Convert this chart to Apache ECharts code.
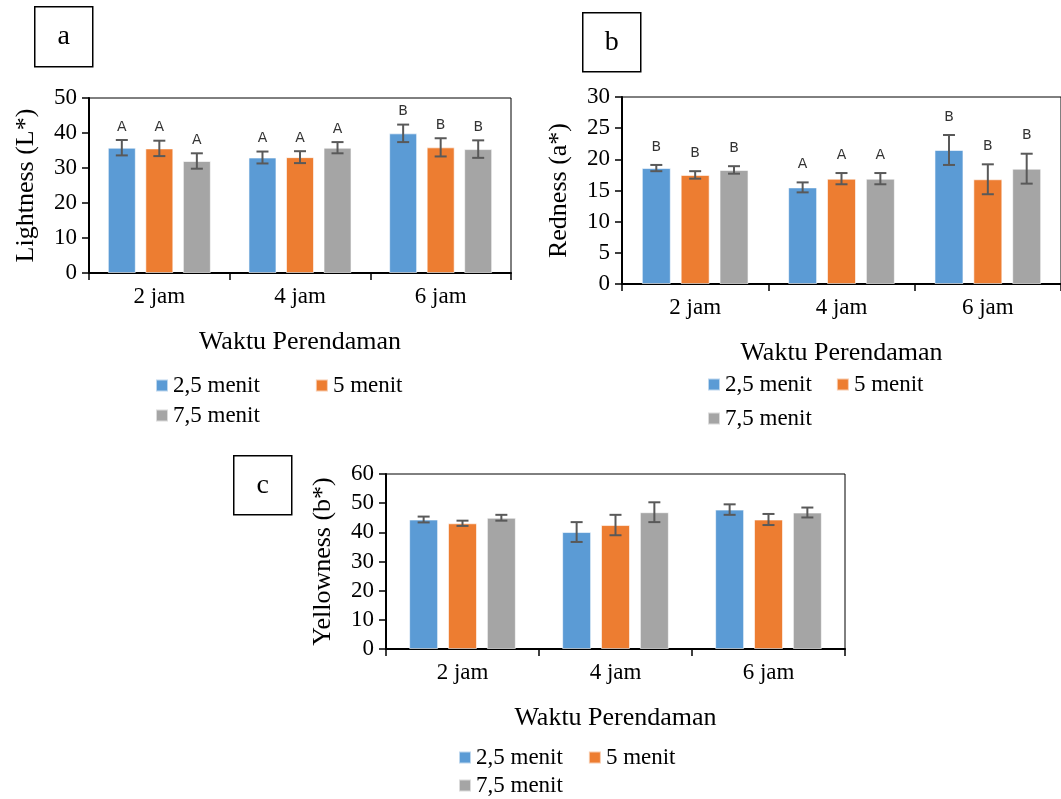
<!DOCTYPE html>
<html>
<head>
<meta charset="utf-8">
<script src="https://cdn.jsdelivr.net/npm/echarts@6/dist/echarts.min.js"></script>
<style>
  html, body { margin: 0; padding: 0; background: #fff; }
  #main { width: 1061px; height: 799px; }
</style>
</head>
<body>
<div id="main"></div>
<script>
// categories and series names
const cats = ['2 jam', '4 jam', '6 jam'];
const seriesNames = ['2,5 menit', '5 menit', '7,5 menit'];
const colors = ['#5B9BD5', '#ED7D31', '#A5A5A5'];

// a: Lightness (L*)
const lightness = [
  [35.8, 33.0, 39.9],
  [35.6, 33.1, 35.9],
  [32.0, 35.8, 35.4]
];
const lightnessErr = [
  [2.2, 1.7, 2.5],
  [2.2, 1.7, 2.6],
  [2.2, 1.6, 2.5]
];
const lightnessLetters = [
  ['A', 'A', 'B'],
  ['A', 'A', 'B'],
  ['A', 'A', 'B']
];

// b: Redness (a*)
const redness = [
  [18.6, 15.5, 21.5],
  [17.5, 16.9, 16.8],
  [18.3, 16.9, 18.5]
];
const rednessErr = [
  [0.5, 0.8, 2.4],
  [0.6, 0.9, 2.4],
  [0.6, 0.9, 2.4]
];
const rednessLetters = [
  ['B', 'A', 'B'],
  ['B', 'A', 'B'],
  ['B', 'A', 'B']
];

// c: Yellowness (b*)
const yellowness = [
  [44.4, 40.1, 47.8],
  [43.1, 42.5, 44.4],
  [45.0, 46.9, 46.8]
];
const yellownessErr = [
  [1.0, 3.4, 1.8],
  [0.9, 3.5, 1.9],
  [1.0, 3.4, 1.7]
];

const serif = 'Liberation Serif';
const chart = echarts.init(document.getElementById('main'));

const panels = [
  { grid: { left: 89, top: 98, width: 422, height: 175 }, max: 50, interval: 10,
    yName: 'Lightness (L*)', barW: 28, vals: lightness, errs: lightnessErr, letters: lightnessLetters, letterGap: 13 },
  { grid: { left: 622, top: 97, width: 450, height: 187 }, max: 30, interval: 5,
    yName: 'Redness (a*)', barW: 29, vals: redness, errs: rednessErr, letters: rednessLetters, letterGap: 18 },
  { grid: { left: 386, top: 474, width: 459, height: 175 }, max: 60, interval: 10,
    yName: 'Yellowness (b*)', barW: 29, vals: yellowness, errs: yellownessErr, letters: null, letterGap: 0 }
];

const grids = [], xAxes = [], yAxes = [], series = [];
const gapRatio = 0.34;

panels.forEach((p, k) => {
  grids.push(Object.assign({ show: true, borderColor: '#000', borderWidth: 1, containLabel: false }, p.grid));
  xAxes.push({
    type: 'category', gridIndex: k, data: cats,
    axisLine: { lineStyle: { color: '#000', width: 2 } },
    axisTick: { show: true, length: 7, lineStyle: { color: '#000', width: 1.5 } },
    axisLabel: { color: '#000', fontFamily: serif, fontSize: 23, margin: 12 },
    name: 'Waktu Perendaman', nameLocation: 'middle', nameGap: 56,
    nameTextStyle: { color: '#000', fontFamily: serif, fontSize: 26 }
  });
  yAxes.push({
    type: 'value', gridIndex: k, min: 0, max: p.max, interval: p.interval,
    splitLine: { show: false },
    axisLine: { show: true, lineStyle: { color: '#000', width: 2 } },
    axisTick: { show: true, length: 7, lineStyle: { color: '#000', width: 1.5 } },
    axisLabel: { color: '#000', fontFamily: serif, fontSize: 23, margin: 12 },
    name: p.yName, nameLocation: 'middle', nameGap: 50,
    nameTextStyle: { color: '#000', fontFamily: serif, fontSize: 26 }
  });

  seriesNames.forEach((name, i) => {
    series.push({
      type: 'bar', name: name, xAxisIndex: k, yAxisIndex: k,
      data: p.vals[i], barWidth: p.barW, barGap: (gapRatio * 100) + '%',
      itemStyle: { color: colors[i], borderColor: 'rgba(255,255,255,0.6)', borderWidth: 1 },
      silent: true
    });
  });

  seriesNames.forEach((name, i) => {
    const offset = (i - 1) * p.barW * (1 + gapRatio);
    series.push({
      type: 'custom', xAxisIndex: k, yAxisIndex: k, z: 5, silent: true,
      data: p.vals[i].map((v, j) => [j, v, p.errs[i][j]]),
      renderItem: function (params, api) {
        const x = api.coord([api.value(0), 0])[0] + offset;
        const hi = api.coord([api.value(0), api.value(1) + api.value(2)])[1];
        const lo = api.coord([api.value(0), api.value(1) - api.value(2)])[1];
        const style = { stroke: '#595959', lineWidth: 2 };
        const kids = [
          { type: 'line', shape: { x1: x, y1: hi, x2: x, y2: lo }, style: style },
          { type: 'line', shape: { x1: x - 6, y1: hi, x2: x + 6, y2: hi }, style: style },
          { type: 'line', shape: { x1: x - 6, y1: lo, x2: x + 6, y2: lo }, style: style }
        ];
        if (p.letters) {
          kids.push({
            type: 'text', x: x, y: hi - p.letterGap,
            style: { text: p.letters[i][params.dataIndex], fill: '#333', font: '14px "DejaVu Sans"',
              align: 'center', verticalAlign: 'middle' }
          });
        }
        return { type: 'group', children: kids };
      }
    });
  });
});

// legends: first row two items, second row one item
const legendBase = {
  icon: 'rect', itemWidth: 12, itemHeight: 12, selectedMode: false,
  textStyle: { color: '#000', fontFamily: serif, fontSize: 23 }
};
const legendPos = [
  { left: 150, top1: 369, top2: 399, gap: 55 },
  { left: 702, top1: 368, top2: 402, gap: 24 },
  { left: 453, top1: 741, top2: 769, gap: 25 }
];
const legends = [];
legendPos.forEach(l => {
  legends.push(Object.assign({}, legendBase, { left: l.left, top: l.top1, itemGap: l.gap, data: seriesNames.slice(0, 2) }));
  legends.push(Object.assign({}, legendBase, { left: l.left, top: l.top2, data: seriesNames.slice(2) }));
});

// panel letter boxes
function box(label, x, y, w, h) {
  return {
    type: 'group', left: x, top: y,
    children: [
      { type: 'rect', shape: { x: 0, y: 0, width: w, height: h }, style: { fill: '#fff', stroke: '#000', lineWidth: 1.5 } },
      { type: 'text', x: w / 2, y: h / 2, style: { text: label, font: '28px "Liberation Serif"', fill: '#000', align: 'center', verticalAlign: 'middle' } }
    ]
  };
}

chart.setOption({
  animation: false,
  grid: grids,
  xAxis: xAxes,
  yAxis: yAxes,
  legend: legends,
  series: series,
  graphic: [
    box('a', 34, 6, 58, 60),
    box('b', 582, 12, 58, 59),
    box('c', 233, 455, 58, 59)
  ]
});
</script>
</body>
</html>
